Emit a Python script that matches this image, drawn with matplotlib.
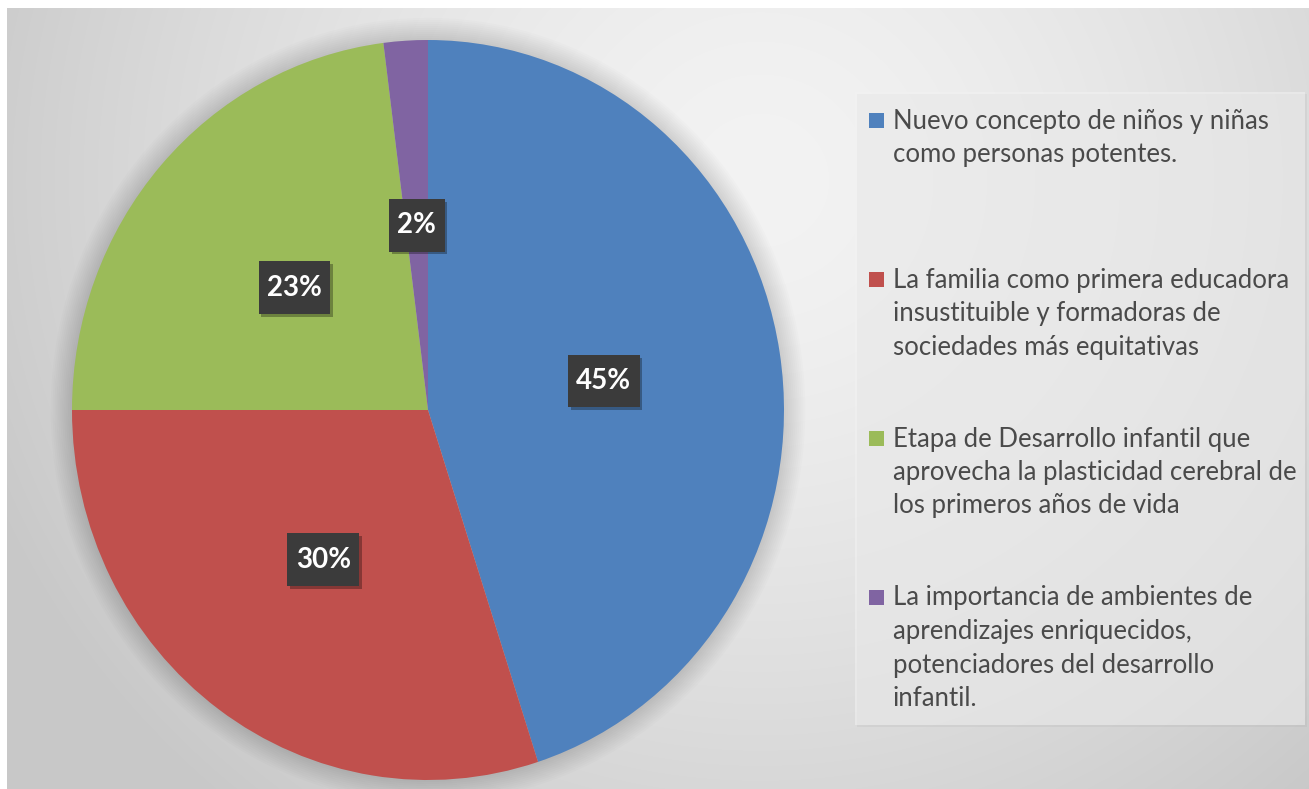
import numpy as np
import matplotlib
matplotlib.use('Agg')
import matplotlib.pyplot as plt
from matplotlib.patches import Rectangle, Ellipse
from matplotlib.path import Path
import matplotlib.patheffects as pe

plt.rcParams['font.family'] = ['Lato', 'DejaVu Sans']

categories = [
    "Nuevo concepto de niños y niñas\ncomo personas potentes.",
    "La familia como primera educadora\ninsustituible y formadoras de\nsociedades más equitativas",
    "Etapa de Desarrollo infantil que\naprovecha la plasticidad cerebral de\nlos primeros años de vida",
    "La importancia de ambientes de\naprendizajes enriquecidos,\npotenciadores del desarrollo\ninfantil.",
]
values = [45, 30, 23, 2]
colors = ["#4f81bd", "#c0504d", "#9bbb59", "#8064a2"]

W, H = 1309, 789
fig = plt.figure(figsize=(W / 100, H / 100), dpi=100)

# background gradient
bg = fig.add_axes([0, 0, 1, 1])
bg.axis('off')
yy, xx = np.mgrid[0:H, 0:W]
d = np.sqrt(((xx - 760) / 720) ** 2 + ((yy - 180) / 700) ** 2)
v = np.clip(243 - 34 * d ** 1.5, 200, 245) / 255
bg.imshow(np.dstack([v, v, v]), extent=(0, W, H, 0), aspect='auto', interpolation='bilinear')
bg.set_xlim(0, W)
bg.set_ylim(H, 0)


def label_box(x0, y0, width, height, mutation_size):
    px, py = 0.30 * mutation_size, 0.48 * mutation_size
    x0, y0 = x0 - px, y0 - py
    x1, y1 = x0 + width + 2 * px, y0 + height + 2 * py
    return Path([(x0, y0), (x1, y0), (x1, y1), (x0, y1), (x0, y0)],
                closed=True)


# pie axes (slightly elliptical like reference)
cx, cy, rx, ry = 428, 410, 356, 370
ax = fig.add_axes([(cx - rx) / W, (H - cy - ry) / H, 2 * rx / W, 2 * ry / H])
for r in np.linspace(1.0, 1.06, 12):
    ax.add_patch(Ellipse((0, 0), 2 * r, 2 * r, facecolor='black', edgecolor='none',
                         alpha=0.011, clip_on=False, zorder=0))
wedges, texts, autotexts = ax.pie(values, colors=colors, startangle=90, counterclock=False,
                                  autopct='%1.0f%%', pctdistance=0.5,
                                  wedgeprops=dict(linewidth=0, zorder=2),
                                  textprops=dict(color='white', fontsize=20, fontweight='bold'))
ax.set_aspect('auto')
ax.set_xlim(-1, 1)
ax.set_ylim(-1, 1)
ax.axis('off')
for t in autotexts:
    t.set_zorder(5)
    t.set_bbox(dict(boxstyle=label_box, facecolor='#3b3b3b', edgecolor='none'))
    t.get_bbox_patch().set_path_effects([
        pe.withSimplePatchShadow(offset=(2, -2), shadow_rgbFace='black', alpha=0.3),
        pe.Normal()])

# overlay for legend
ov = fig.add_axes([0, 0, 1, 1])
ov.set_xlim(0, W)
ov.set_ylim(H, 0)
ov.axis('off')
ov.patch.set_alpha(0)

# legend box
ov.add_patch(Rectangle((857, 94), 450, 633, facecolor='#a0a0a0', edgecolor='none', alpha=0.15))
ov.add_patch(Rectangle((855, 92), 450, 633, facecolor='#f2f2f2', edgecolor='none', alpha=0.55))

y0, step, lstep = 121, 159, 33.5
for i, (lab, col) in enumerate(zip(categories, colors)):
    yb = y0 + i * step
    ov.add_patch(Rectangle((869, yb - 8), 15, 15, facecolor=col, edgecolor='none'))
    for j, line in enumerate(lab.split('\n')):
        ov.text(893, yb + j * lstep, line, fontsize=18.5, color='#4a4a4a', va='center', ha='left')

# white border top / left
ov.add_patch(Rectangle((0, 0), W, 8, facecolor='white', edgecolor='none'))
ov.add_patch(Rectangle((0, 0), 7, H, facecolor='white', edgecolor='none'))

fig.savefig('out.png', dpi=100)
